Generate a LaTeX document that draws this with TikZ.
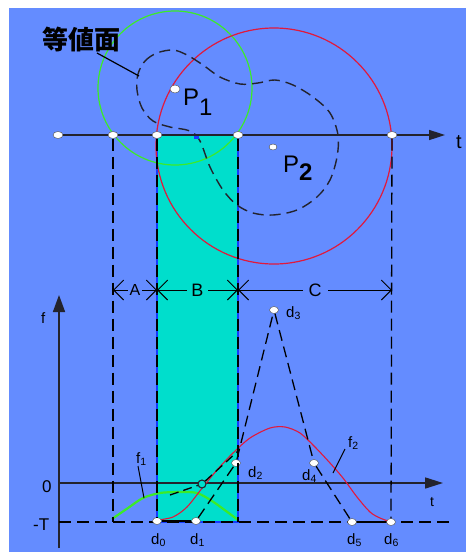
\documentclass[tikz,border=0pt]{standalone}
\usepackage{fontspec}
\setmainfont{Liberation Sans}
\newfontfamily\cjk{Noto Sans CJK JP}
\usetikzlibrary{arrows.meta,shapes.geometric}
\definecolor{bgblue}{RGB}{100,140,255}
\definecolor{tankcyan}{RGB}{0,222,204}
\definecolor{edgeblue}{RGB}{20,60,255}
\definecolor{fgreen}{RGB}{60,235,40}
\definecolor{fred}{RGB}{225,25,60}
\definecolor{axisgray}{RGB}{35,35,45}
\newcommand{\fs}[1]{\fontsize{#1}{#1}\selectfont}
\newcommand{\dsub}[2]{#1\textsubscript{#2}}

\begin{document}
\begin{tikzpicture}[x=1pt,y=-1pt,
  axisline/.style={axisgray,line width=1.6pt},
  guide/.style={black,line width=1.3pt,dash pattern=on 12pt off 6pt},
  knot/.style={ellipse,draw=gray!60!black,fill=white,inner sep=0pt,minimum width=9pt,minimum height=7pt},
  dimarrow/.style={line width=0.9pt,{Straight Barb[length=10pt,width=20pt]}-{Straight Barb[length=10pt,width=20pt]}},
  lab/.style={inner sep=0pt,anchor=base west,font=\fs{15}}]
  \useasboundingbox (0,0) rectangle (466,552);
  \fill[white] (0,0) rectangle (466,552);
  \fill[bgblue] (9,8) rectangle (466,552);
  % section B
  \filldraw[fill=tankcyan,draw=edgeblue,line width=1.5pt] (157,135) rectangle (238,522);
  \draw[fgreen,line width=1.2pt] (175,88) circle[radius=77];
  \draw[fred,line width=1.2pt] (274,146) circle[radius=118];
  % iso-surface
  \draw[axisgray,line width=1.4pt,dash pattern=on 11pt off 6pt] plot[smooth cycle,tension=0.55] coordinates {
    (138,74) (145,61) (157,53) (173,50) (187,55) (203,65) (220,77) (240,84) (258,83)
    (275,80) (293,85) (313,97) (330,113) (338,135) (337,157) (330,180) (317,197)
    (297,210) (273,215) (253,213) (237,205) (223,190) (210,167) (200,141) (190,131)
    (170,127) (153,121) (142,108) (137,90)};
  \fill[edgeblue] (194,134) rectangle (199,139);

  % upper t axis
  \foreach \n/\x in {0/58,1/113,2/157,3/238,4/392}
    \node[knot,minimum width=10pt] (top\n) at (\x,135) {};
  \coordinate (ttop) at (445,135);
  \foreach \a/\b in {0/1,1/2,2/3,3/4}
    \draw[axisline] (top\a) -- (top\b);
  \draw[axisline,-{Triangle[length=16pt,width=10pt]}] (top4) -- (ttop);
  \node[lab,font=\fs{20}] (tlab) at (456,148) {t};

  % lower f-t axes
  \coordinate (fbot) at (59,548);
  \coordinate (ftip) at (59,295);
  \coordinate (zleft) at (59,483);
  \coordinate (ztip) at (443,483);
  \coordinate (tl) at (59,522);
  \coordinate (tr) at (450,522);
  \draw[axisline,-{Triangle[length=17pt,width=12pt]}] (fbot) -- (ftip);
  \draw[axisline,-{Triangle[length=18pt,width=11pt]}] (zleft) -- (ztip);
  \draw[guide] (tl) -- (tr);
  \node[lab] (flab) at (41,323) {f};
  \node[lab,font=\fs{17}] (zlab) at (42,492) {0};
  \node[lab,font=\fs{17}] (Tlab) at (33,530) {-T};
  \node[lab,font=\fs{14}] (tlab2) at (430,506) {t};

  % f1 and f2
  \draw[fgreen,line width=2.2pt] plot[smooth] coordinates {(112,519) (128,508) (143,498) (160,493)
    (180,492) (197,493) (212,501) (226,511) (238,520)};
  \draw[fred,line width=1.1pt] plot[smooth] coordinates {(158,520) (173,517) (187,507) (203,487)
    (217,470) (233,453) (250,438) (270,428) (285,427) (300,433) (315,447) (330,463)
    (343,478) (357,497) (370,512) (380,518) (391,522)};

  % section borders
  \coordinate (b1) at (113,522);
  \coordinate (b3) at (238,522);
  \foreach \n/\x/\y in {0/157/521,1/196/521,2/236/463,3/274/310,4/314/463,5/352/522,6/391/522}
    \node[knot] (d\n) at (\x,\y) {};
  \draw[guide] (top1) -- (b1);
  \draw[guide] (top2) -- (d0);
  \draw[guide] (top3) -- (b3);
  \draw[guide] (top4) -- (d6);
  \draw[line width=2pt] (d0) -- (d1);
  \draw[line width=2pt] (d5) -- (d6);
  \draw[guide,dash pattern=on 11pt off 6pt] (d1) -- (d2) -- (d3) -- (d4) -- (d5);

  % tangent through the zero crossing
  \coordinate (tg0) at (170,495);
  \coordinate (tg1) at (238,451);
  \node[circle,draw=axisgray,line width=1.1pt,fill=tankcyan,minimum size=8pt,inner sep=0pt] (zc) at (202,484) {};
  \draw[guide,dash pattern=on 9pt off 5pt] (tg0) -- (zc) -- (tg1);

  % A B C
  \foreach \n/\x in {0/113,1/157,2/238,3/392}
    \coordinate (dm\n) at (\x,290);
  \draw[dimarrow] (dm0) -- node[fill=bgblue,inner sep=1.5pt,font=\fs{16}] (alab) {A} (dm1);
  \draw[dimarrow] (dm1) -- node[fill=tankcyan,inner sep=4pt,font=\fs{18}] (blab) {B} (dm2);
  \draw[dimarrow] (dm2) -- node[fill=bgblue,inner sep=6pt,font=\fs{18}] (clab) {C} (dm3);

  % labels
  \node[font=\cjk\bfseries\fs{26},inner sep=0pt] (eqsurf) at (81,39) {等値面};
  \coordinate (eqfoot) at (97,53);
  \coordinate (eqtip) at (139,76);
  \draw[line width=1.2pt] (eqfoot) -- (eqtip);
  \node[knot,minimum width=10pt,minimum height=8pt] (p1) at (175,89) {};
  \node[knot,minimum width=8pt,minimum height=6pt] (p2) at (273,147) {};
  \node[lab,font=\fs{24}] (p1lab) at (183,105) {P\raisebox{-10pt}{1}};
  \node[lab,font=\fs{24}] (p2lab) at (283,172) {P\raisebox{-8pt}{\bfseries 2}};
  \foreach \n/\x/\y in {0/151/544,1/190/544,2/248/477,3/286/317,4/302/480,5/347/544,6/384/544}
    \node[lab] (dl\n) at (\x,\y) {\dsub{d}{\n}};
  \node[lab] (f1lab) at (136,463) {\dsub{f}{1}};
  \node[lab] (f2lab) at (348,447) {\dsub{f}{2}};
  \coordinate (f1a) at (138,466);
  \coordinate (f1b) at (144,498);
  \coordinate (f2a) at (345,449);
  \coordinate (f2b) at (333,473);
  \draw[line width=1pt] (f1a) -- (f1b);
  \draw[line width=1pt] (f2a) -- (f2b);
\end{tikzpicture}
\end{document}
